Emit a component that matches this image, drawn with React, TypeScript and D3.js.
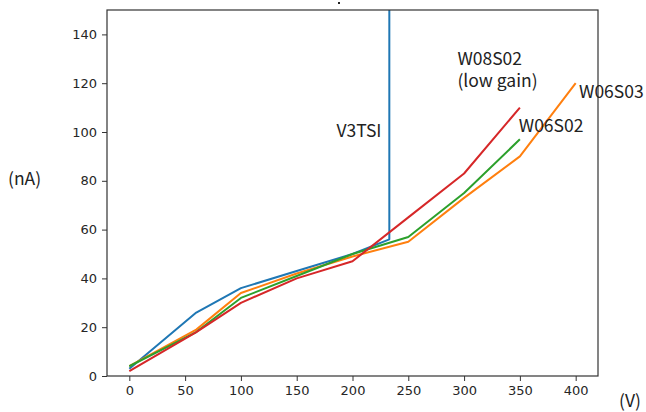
import { useEffect, useRef } from "react";
import * as d3 from "d3";

const width = 646;
const height = 412;

const xTicks = [0, 50, 100, 150, 200, 250, 300, 350, 400];
const yTicks = [0, 20, 40, 60, 80, 100, 120, 140];

// V3TSI breaks down at ~233 V
const v3tsiV = [0, 60, 100, 150, 200, 233, 233];
const v3tsiI = [3, 26, 36, 43, 50, 56, 150];

const w06s03V = [0, 60, 100, 150, 200, 250, 300, 350, 400];
const w06s03I = [4, 19, 34, 42, 49, 55, 73, 90, 120];

const w06s02V = [0, 60, 100, 150, 200, 250, 300, 350];
const w06s02I = [4, 18, 32, 41, 50, 57, 75, 97];

const w08s02V = [0, 60, 100, 150, 200, 250, 300, 350];
const w08s02I = [2, 18, 30, 40, 47, 65, 83, 110];

const series = [
  { name: "V3TSI", v: v3tsiV, i: v3tsiI, color: "#1f77b4" },
  { name: "W06S03", v: w06s03V, i: w06s03I, color: "#ff7f0e" },
  { name: "W06S02", v: w06s02V, i: w06s02I, color: "#2ca02c" },
  { name: "W08S02", v: w08s02V, i: w08s02I, color: "#d62728" },
];

const labels = [
  { text: "V3TSI", x: 226, y: 98, anchor: "end" },
  { text: "W08S02", x: 294, y: 127.5 },
  { text: "(low gain)", x: 294, y: 118.5 },
  { text: "W06S03", x: 403, y: 114 },
  { text: "W06S02", x: 349, y: 100 },
];

const margin = { top: 10, right: 48, bottom: 36, left: 107 };

const App = () => {
  const ref = useRef<SVGSVGElement | null>(null);

  useEffect(() => {
    const root = d3.select(ref.current);
    root.selectAll("*").remove();

    const innerW = width - margin.left - margin.right;
    const innerH = height - margin.top - margin.bottom;

    const x = d3.scaleLinear().domain([-20, 420]).range([0, innerW]);
    const y = d3.scaleLinear().domain([0, 150]).range([innerH, 0]);

    const svg = root
      .append("g")
      .attr("transform", "translate(" + margin.left + "," + margin.top + ")");

    svg
      .append("clipPath")
      .attr("id", "plot-clip")
      .append("rect")
      .attr("width", innerW)
      .attr("height", innerH);

    const line = d3
      .line<[number, number]>()
      .x((d) => x(d[0]))
      .y((d) => y(d[1]));

    svg
      .append("g")
      .attr("clip-path", "url(#plot-clip)")
      .selectAll("path")
      .data(series)
      .enter()
      .append("path")
      .attr("d", (s) => line(s.v.map((v, k) => [v, s.i[k]] as [number, number])))
      .attr("fill", "none")
      .attr("stroke", (s) => s.color)
      .attr("stroke-width", 2)
      .attr("stroke-linejoin", "round");

    const tickFont = "DejaVu Sans, sans-serif";

    const xAxis = svg
      .append("g")
      .attr("transform", "translate(0," + innerH + ")")
      .call(d3.axisBottom(x).tickValues(xTicks).tickSize(5).tickPadding(5));
    const yAxis = svg
      .append("g")
      .call(d3.axisLeft(y).tickValues(yTicks).tickSize(5).tickPadding(5));

    [xAxis, yAxis].forEach((ax) => {
      ax.select(".domain").remove();
      ax.selectAll("line").attr("stroke", "#333").attr("stroke-width", 1);
      ax.selectAll("text")
        .attr("fill", "#262626")
        .style("font-family", tickFont)
        .style("font-size", "13px");
    });

    svg
      .append("rect")
      .attr("width", innerW)
      .attr("height", innerH)
      .attr("fill", "none")
      .attr("stroke", "#333")
      .attr("stroke-width", 1.2);

    const labelFont = "'Noto Sans CJK JP', 'Noto Sans', sans-serif";

    svg
      .selectAll("text.label")
      .data(labels)
      .enter()
      .append("text")
      .attr("class", "label")
      .attr("x", (l) => x(l.x))
      .attr("y", (l) => y(l.y))
      .attr("text-anchor", (l) => l.anchor || "start")
      .attr("fill", "#222")
      .style("font-family", labelFont)
      .style("font-size", "17.5px")
      .text((l) => l.text);

    root
      .append("text")
      .attr("x", 8)
      .attr("y", 185)
      .attr("fill", "#222")
      .style("font-family", labelFont)
      .style("font-size", "17.5px")
      .text("(nA)");

    root
      .append("text")
      .attr("x", 619)
      .attr("y", 407)
      .attr("fill", "#222")
      .style("font-family", labelFont)
      .style("font-size", "17.5px")
      .text("(V)");

    root
      .append("rect")
      .attr("x", 338)
      .attr("y", 2)
      .attr("width", 2)
      .attr("height", 2)
      .attr("fill", "#222");
  }, []);

  return (
    <svg
      ref={ref}
      width={width}
      height={height}
      style={{ position: "absolute", left: 0, top: 0, background: "#fff" }}
    />
  );
};

export default App;
